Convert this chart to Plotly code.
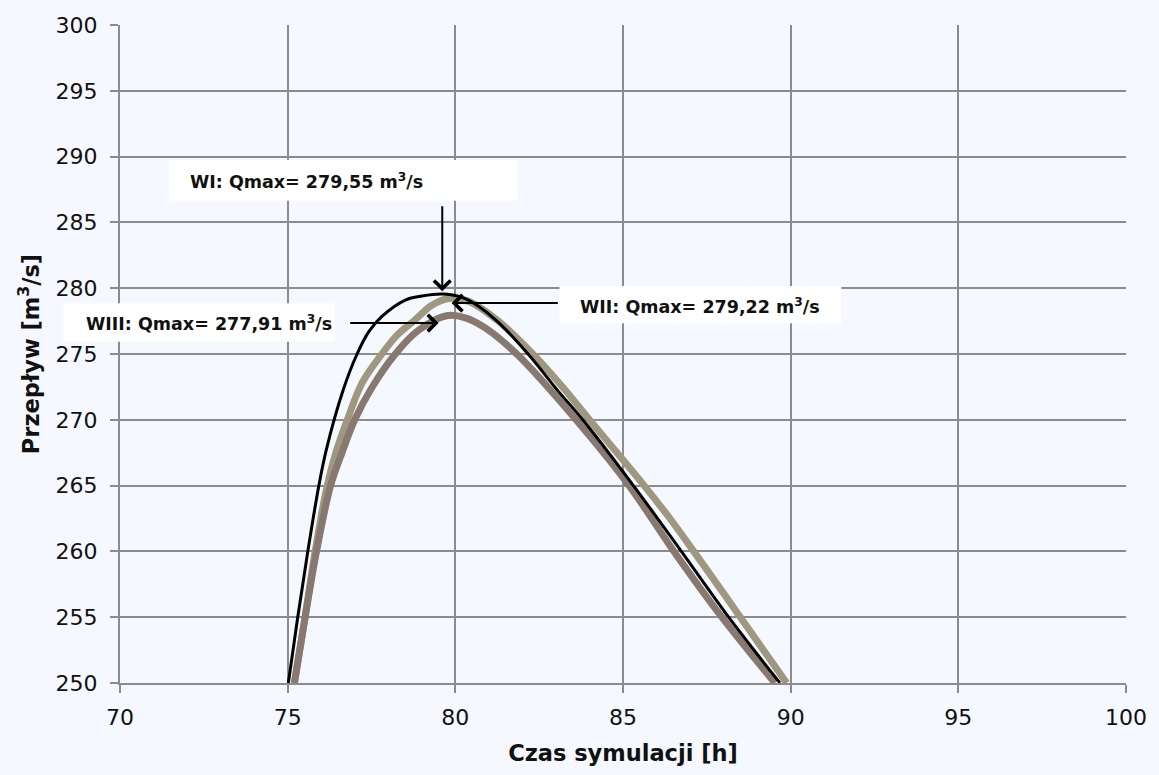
import plotly.graph_objects as go

# ---- data ----
wi_x = [75.02, 75.30, 75.60, 75.93, 76.15, 76.66, 77.07, 77.42, 77.81, 78.51, 79.0, 79.64,
        80.3, 81.2, 82.17, 83.06, 83.8, 85.31, 86.74, 88.15, 89.68]
wi_y = [250, 255, 260, 265, 267.7, 272.3, 275, 276.7, 277.86, 279.1, 279.4, 279.55,
        279.2, 277.6, 275.0, 272.2, 270, 265, 260, 255, 250]

wii_x = [75.2, 75.52, 75.82, 76.18, 76.45, 76.78, 77.22, 77.81, 78.25, 78.8, 79.3, 79.8, 80.4,
         81.28, 82.31, 83.16, 84.0, 85.63, 86.4, 87.11, 88.5, 89.88]
wii_y = [250, 255, 260, 265, 267.6, 270, 272.8, 275, 276.4, 277.6, 278.7, 279.22, 279.0,
         277.5, 275, 272.6, 270, 265, 262.5, 260, 255, 250]

wiii_x = [75.2, 75.52, 75.86, 76.28, 76.62, 77.0, 77.5, 78.21, 78.9, 79.74, 80.3,
          80.88, 81.87, 83.6, 85.18, 86.52, 87.95, 89.53]
wiii_y = [250, 255, 260, 265, 267.5, 270, 272.4, 275, 276.8, 277.91, 277.75,
          277.0, 274.9, 270, 265, 260, 255, 250]

labels = ["WI: Qmax= 279,55 m<sup>3</sup>/s",
          "WII: Qmax= 279,22 m<sup>3</sup>/s",
          "WIII: Qmax= 277,91 m<sup>3</sup>/s"]

x_title = "Czas symulacji [h]"
y_title = "Przepływ [m<sup>3</sup>/s]"

# ---- layout geometry ----
W, H = 1159, 775
L, R, T, B = 120, 28, 25, 92
PW, PH = W - L - R, H - T - B
BG = "#F5F8FE"
GRID = "#8C8C8C"
FONT = "DejaVu Sans"


def px2paper(px, py):
    return (px - L) / PW, (H - B - py) / PH


fig = go.Figure()
fig.add_trace(go.Scatter(x=wii_x, y=wii_y, mode="lines", name="WII",
                         line=dict(color="#9E9880", width=7, shape="spline", smoothing=1.0)))
fig.add_trace(go.Scatter(x=wiii_x, y=wiii_y, mode="lines", name="WIII",
                         line=dict(color="#877870", width=7, shape="spline", smoothing=1.0)))
fig.add_trace(go.Scatter(x=wi_x, y=wi_y, mode="lines", name="WI",
                         line=dict(color="#000000", width=3, shape="spline", smoothing=1.0)))

# text boxes (pixel geometry -> paper)
boxes = [(169, 160, 519, 200.7), (561.7, 286, 845, 323.3), (63, 303.3, 336, 341.7)]
text_pos = [(188, 181), (580, 305.5), (84, 323)]
shapes = []
annotations = []
for (x0, y0, x1, y1), (tx, ty), lab in zip(boxes, text_pos, labels):
    a0, b0 = px2paper(x0, y1)
    a1, b1 = px2paper(x1, y0)
    shapes.append(dict(type="rect", xref="paper", yref="paper", x0=a0, x1=a1, y0=b0, y1=b1,
                       fillcolor="white", line=dict(width=0), layer="above"))
    ax_, ay_ = px2paper(tx, ty)
    annotations.append(dict(xref="paper", yref="paper", x=ax_, y=ay_, text="<b>" + lab + "</b>",
                            showarrow=False, xanchor="left", yanchor="middle",
                            font=dict(family=FONT, size=17.5, color="#111111")))

# arrows (tip, tail) in data coordinates
arrows = [((79.61, 279.76), (79.61, 286.35)),
          ((79.89, 278.87), (83.1, 278.87)),
          ((79.5, 277.35), (76.82, 277.35))]
for (tx, ty), (sx, sy) in arrows:
    annotations.append(dict(x=tx, y=ty, ax=sx, ay=sy, xref="x", yref="y", axref="x", ayref="y",
                            text="", showarrow=True, arrowhead=4, arrowsize=1.6, arrowwidth=2,
                            arrowcolor="black", standoff=0))

axis_common = dict(showgrid=True, gridcolor=GRID, gridwidth=2, showline=True, linecolor=GRID,
                   linewidth=2, ticks="outside", ticklen=8, tickwidth=2, tickcolor=GRID,
                   zeroline=False, tickfont=dict(family=FONT, size=22, color="#111111"))

fig.update_layout(
    width=W, height=H,
    margin=dict(l=L, r=R, t=T, b=B, pad=0),
    paper_bgcolor=BG, plot_bgcolor=BG,
    showlegend=False,
    shapes=shapes, annotations=annotations,
    xaxis=dict(range=[70, 100], dtick=5, tick0=70, ticklabelstandoff=6,
               title=dict(text=x_title, standoff=16,
                          font=dict(family=FONT, size=22.5, color="#111111", weight="bold")),
               **axis_common),
    yaxis=dict(range=[250, 300], dtick=5, tick0=250, ticklabelstandoff=8,
               title=dict(text=y_title, standoff=10,
                          font=dict(family=FONT, size=22.5, color="#111111", weight="bold")),
               **axis_common),
)

fig.write_html("out.html", config={"displayModeBar": False},
               post_script="document.body.style.margin='0';document.body.style.overflow='hidden';")
